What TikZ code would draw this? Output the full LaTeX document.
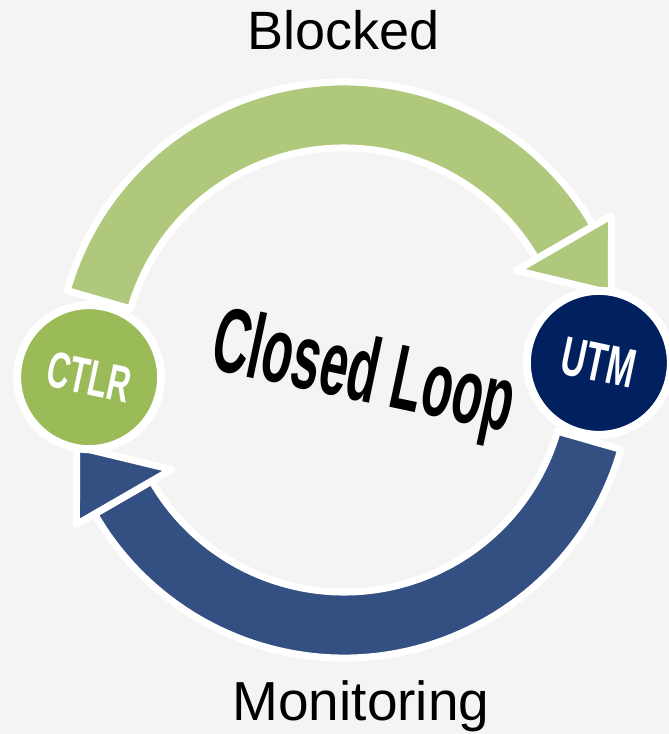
\documentclass[tikz,border=0pt]{standalone}
\usepackage{fontspec}
\setmainfont{Liberation Sans}
\newfontfamily\hubfont{Liberation Sans}[FakeStretch=0.62]
\definecolor{leafgreen}{HTML}{B0C87C}
\definecolor{ctlrgreen}{HTML}{9BBB59}
\definecolor{loopblue}{HTML}{345082}
\definecolor{utmblue}{HTML}{002060}
\definecolor{paper}{HTML}{F4F4F4}

\begin{document}
\begin{tikzpicture}[x=1pt,y=1pt,
  band/.style={draw=white,line width=7pt,line join=round},
  hub/.style={circle,minimum size=144pt,inner sep=0pt,draw=white,line width=8pt,
    text=white,rotate=-12,font=\hubfont\bfseries\fontsize{51}{51}\selectfont}]
\fill[paper] (-344,-364) rectangle (325,370); % background
\useasboundingbox (-344,-364) rectangle (325,370);

% green arc, CTLR to UTM
\filldraw[band,fill=leafgreen] (164:288) arc (164:30:288) -- (30:222) arc (30:164:222) -- cycle;
\filldraw[band,fill=leafgreen] (30:199) -- (30:309) -- (16:278) -- cycle; % head

% blue arc, UTM to CTLR
\filldraw[band,fill=loopblue] (-16:288) arc (-16:-150:288) -- (-150:222) arc (-150:-16:222) -- cycle;
\filldraw[band,fill=loopblue] (210:199) -- (210:309) -- (196:278) -- cycle; % head

\node[hub,fill=ctlrgreen] (ctlr) at (181.6:255) {CTLR};
\node[hub,fill=utmblue,font=\hubfont\bfseries\fontsize{55}{55}\selectfont] (utm) at (1.6:255) {UTM};

\begin{scope}[shift={(19,-7)},rotate=-12,xscale=0.55]
\node[transform shape,font=\bfseries\fontsize{92}{92}\selectfont] (loop) at (0,0) {Closed Loop};
\end{scope}

\node[anchor=base,font=\fontsize{54}{54}\selectfont] (blocked) at (0,320) {Blocked};
\node[anchor=base,font=\fontsize{55}{55}\selectfont] (monitoring) at (17,-350) {Monitoring};
\end{tikzpicture}
\end{document}
